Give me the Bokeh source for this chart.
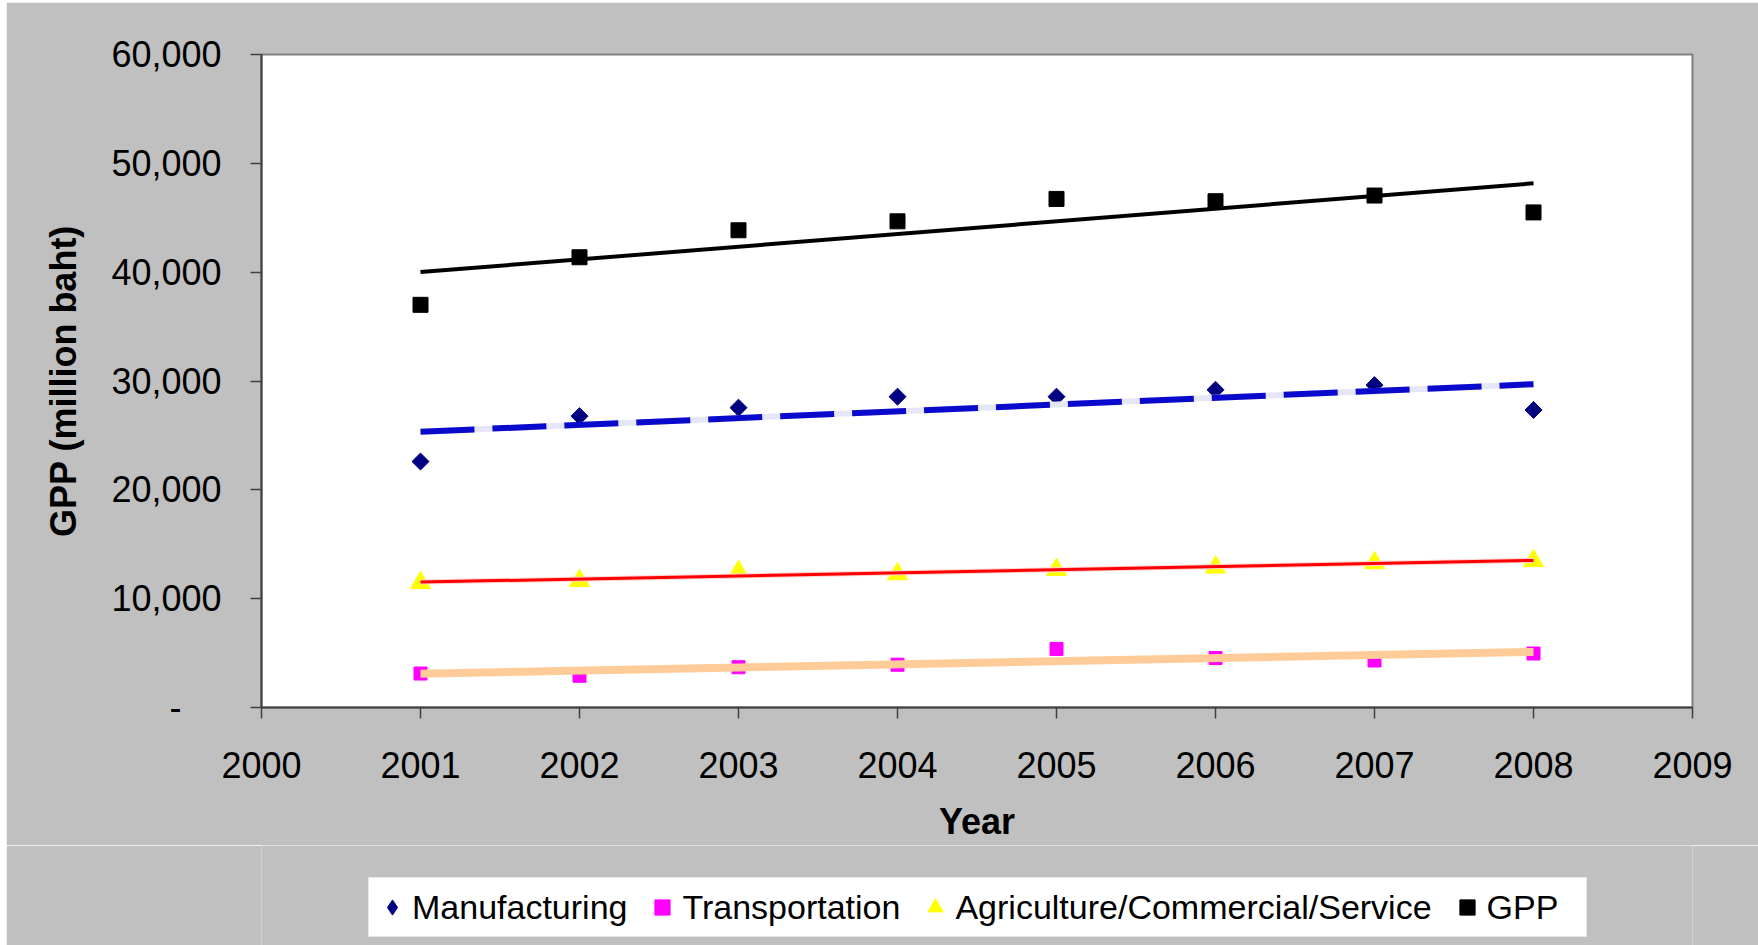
import numpy as np
from bokeh.plotting import figure
from bokeh.layouts import column, row
from bokeh.models import FixedTicker, Legend, LegendItem, Range1d, Spacer
from bokeh.embed import file_html
from bokeh.resources import INLINE

years = [2001, 2002, 2003, 2004, 2005, 2006, 2007, 2008]
manufacturing = [22600, 26770, 27550, 28560, 28560, 29190, 29620, 27340]
transportation = [3120, 2910, 3700, 3930, 5380, 4550, 4320, 4960]
agriculture = [11460, 11650, 12470, 12270, 12660, 12880, 13280, 13480]
gpp = [37000, 41370, 43850, 44670, 46730, 46520, 47040, 45490]

series_names = ["Manufacturing", "Transportation", "Agriculture/Commercial/Service", "GPP"]
y_ticks = [0, 10000, 20000, 30000, 40000, 50000, 60000]
x_ticks = [2000, 2001, 2002, 2003, 2004, 2005, 2006, 2007, 2008, 2009]

FONT = "Liberation Sans"
BG = "#C0C0C0"

p = figure(width=1752, height=843, output_backend="svg", toolbar_location=None,
           x_range=Range1d(2000, 2009), y_range=Range1d(0, 60000),
           min_border_left=255, min_border_right=66, min_border_top=52, min_border_bottom=138)
p.background_fill_color = "white"
p.border_fill_color = BG
p.outline_line_color = "#808080"
p.outline_line_width = 2
p.xgrid.visible = False
p.ygrid.visible = False

for ax in (p.xaxis[0], p.yaxis[0]):
    ax.axis_line_color = "#404040"
    ax.axis_line_width = 2
    ax.major_tick_line_color = "#404040"
    ax.major_tick_line_width = 1.5
    ax.major_tick_out = 11
    ax.major_tick_in = 0
    ax.minor_tick_line_color = None
    ax.major_label_text_font = FONT
    ax.major_label_text_font_size = "36px"
    ax.major_label_text_color = "black"
    ax.axis_label_text_font = FONT
    ax.axis_label_text_font_size = "36px"
    ax.axis_label_text_font_style = "bold"
    ax.axis_label_text_color = "black"

p.xaxis.ticker = FixedTicker(ticks=x_ticks)
p.xaxis.major_label_standoff = 33
p.xaxis.axis_label = "Year"
p.xaxis.axis_label_standoff = 20

p.yaxis.ticker = FixedTicker(ticks=y_ticks)
p.yaxis.major_label_overrides = {v: ("-\u00a0\u00a0\u00a0\u00a0" if v == 0 else f"{v:,}") for v in y_ticks}
p.yaxis.major_label_standoff = 29
p.yaxis.axis_label = "GPP (million baht)"
p.yaxis.axis_label_standoff = 24

# plot markers (diamond drawn as a 45-degree square)
plot_styles = [
    dict(marker="square", angle=np.pi / 4, size=12, fill_color="#000080", line_color="#000080"),
    dict(marker="square", size=13, fill_color="#FF00FF", line_color="#FF00FF"),
    dict(marker="triangle", size=20, fill_color="#FFFF00", line_color="#FFFF00"),
    dict(marker="square", size=15, fill_color="black", line_color="black"),
]
legend_styles = [
    dict(marker="diamond", fill_color="#000080", line_color="#000080"),
    dict(marker="square", fill_color="#FF00FF", line_color="#FF00FF"),
    dict(marker="triangle", fill_color="#FFFF00", line_color="#FFFF00"),
    dict(marker="square", fill_color="black", line_color="black"),
]
all_series = [manufacturing, transportation, agriculture, gpp]

for vals, st in zip(all_series, plot_styles):
    p.scatter(years, vals, **st)

def trend(vals):
    k, b = np.polyfit(years, vals, 1)
    xs = [years[0], years[-1]]
    return xs, [k * x + b for x in xs]

xs, ys = trend(transportation)
p.line(xs, ys, line_color="#FFCC99", line_width=8)
xs, ys = trend(agriculture)
p.line(xs, ys, line_color="#FFD0D0", line_width=5)
p.line(xs, ys, line_color="#FF0000", line_width=3)
xs, ys = trend(manufacturing)
p.line(xs, ys, line_color="#E6E6FA", line_width=6)
p.line(xs, ys, line_color="#0A0ACD", line_width=6, line_dash="54 18")
xs, ys = trend(gpp)
p.line(xs, ys, line_color="black", line_width=4)

# legend strip below the chart
lg = figure(width=1752, height=100, output_backend="svg", toolbar_location=None,
            x_range=Range1d(0, 1), y_range=Range1d(0, 1), x_axis_type=None, y_axis_type=None,
            min_border_left=0, min_border_right=0, min_border_top=0, min_border_bottom=0)
lg.background_fill_color = BG
lg.border_fill_color = BG
lg.outline_line_color = None
lg.xgrid.visible = False
lg.ygrid.visible = False

items = []
for name, vals, st in zip(series_names, all_series, legend_styles):
    r = lg.scatter(years, vals, visible=False, **st)
    items.append(LegendItem(label=name, renderers=[r]))

legend = Legend(items=items, location=(107, 8), orientation="horizontal")
legend.background_fill_color = "white"
legend.background_fill_alpha = 1
legend.border_line_color = "#D0D0D0"
legend.border_line_width = 1
legend.label_text_font = FONT
legend.label_text_font_size = "34px"
legend.label_text_color = "black"
legend.glyph_width = 38
legend.glyph_height = 50
legend.label_standoff = 1
legend.label_width = 95
legend.spacing = 16
legend.padding = 4
legend.margin = 0
legend.click_policy = "none"
lg.add_layout(legend)

layout = row(Spacer(width=6, height=945), column(Spacer(width=1752, height=2), p, lg, spacing=0), spacing=0)
open("out.html", "w").write(file_html(layout, INLINE))
